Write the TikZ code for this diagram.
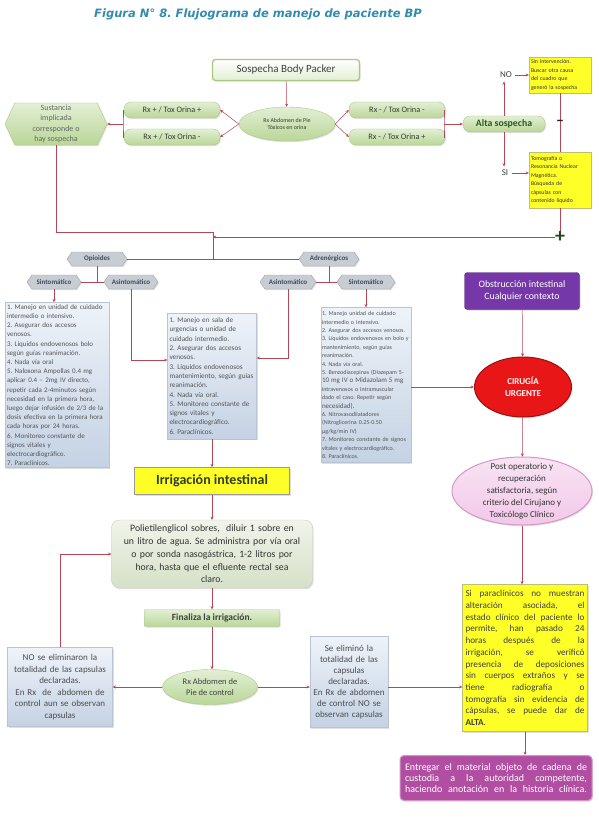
\documentclass[tikz,border=0pt]{standalone}
\usepackage{fontspec}
\setmainfont{Carlito}
\newfontfamily\titlefont{DejaVu Sans}
\usetikzlibrary{shapes.geometric,shapes.symbols,arrows.meta,shadows}
\definecolor{lineR}{RGB}{180,70,85}
\definecolor{gTop}{RGB}{226,239,212}
\definecolor{gBot}{RGB}{186,214,152}
\definecolor{gBrd}{RGB}{168,202,128}
\definecolor{gTxt}{RGB}{55,60,50}
\definecolor{altaTxt}{RGB}{40,90,30}
\definecolor{chFill}{RGB}{200,205,212}
\definecolor{chTxt}{RGB}{60,75,95}
\definecolor{bTop}{RGB}{238,243,249}
\definecolor{bBot}{RGB}{196,210,228}
\definecolor{bBrd}{RGB}{185,195,210}
\definecolor{bTxt}{RGB}{85,85,85}
\definecolor{yel}{RGB}{255,255,40}
\definecolor{yBrd}{RGB}{190,190,120}
\definecolor{purp}{RGB}{118,56,168}
\definecolor{cRed}{RGB}{232,22,22}
\definecolor{cRedB}{RGB}{150,20,20}
\definecolor{pinkF}{RGB}{242,200,232}
\definecolor{pinkB}{RGB}{215,150,200}
\definecolor{mag}{RGB}{178,78,162}
\definecolor{titC}{RGB}{50,140,175}
\definecolor{plusC}{RGB}{40,70,30}
\definecolor{irrTxt}{RGB}{50,60,35}
\definecolor{pTop}{RGB}{240,244,234}
\definecolor{pBot}{RGB}{214,224,200}
\definecolor{pBrd}{RGB}{200,210,190}
\newcommand{\jl}[1]{{\spaceskip=0.23em plus 3em\xspaceskip=0.23em plus 3em\makebox[\hsize][s]{#1}}}
\newcommand{\fs}[2]{\fontsize{#1}{#2}\selectfont}
\frenchspacing
\begin{document}
\begin{tikzpicture}[x=1pt,y=-1pt,
  conn/.style={draw=lineR, line width=0.5pt},
  arr/.style={conn, -{Stealth[length=3.2pt,width=3pt]}},
  shd/.style={drop shadow={opacity=0.25,shadow xshift=1pt,shadow yshift=-1.2pt}},
  gbox/.style={shd, draw=gBrd, top color=gTop, bottom color=gBot, text=gTxt, inner sep=1pt, align=center},
  gpill/.style={gbox, rounded corners=7pt, minimum width=96pt, minimum height=16pt, font=\fs{8.3}{10}},
  gell/.style={gbox, ellipse},
  chev/.style={shd, signal, signal to=east and west, signal pointer angle=110, fill=chFill, draw=chFill!80!black, text=chTxt, font=\bfseries\fs{7}{8}, minimum height=14pt, inner sep=1pt},
  bbox/.style={shd, draw=bBrd, top color=bTop, bottom color=bBot, text=bTxt, inner sep=2pt, align=left},
  ybox/.style={shd, fill=yel, draw=yBrd, text=black!80, inner sep=2pt, align=left}]
\useasboundingbox (0,0) rectangle (599,840);
\fill[white] (0,0) rectangle (599,840);

\node[font=\titlefont\bfseries\itshape\fs{11.5}{13}, text=titC] (title) at (258,14) {Figura N° 8. Flujograma de manejo de paciente BP};

\node[shd, draw=gBrd, line width=1.3pt, rounded corners=3pt, top color=white, bottom color=gTop, minimum width=147pt, minimum height=21pt, font=\fs{11}{13}, text=black!75] (sosp) at (286,70) {Sospecha Body Packer};
\node[gell, minimum width=96pt, minimum height=34pt, font=\fs{6}{7.5}] (rxab) at (287,124) {Rx Abdomen de Pie\\Tóxicos en orina};
\node[gpill] (rxpp) at (172,110) {Rx + / Tox Orina +};
\node[gpill] (rxpm) at (172,137) {Rx + / Tox Orina -};
\node[gpill] (rxmm) at (397,110) {Rx - / Tox Orina -};
\node[gpill] (rxmp) at (397,137) {Rx - / Tox Orina +};
\node[gpill, minimum width=82pt, font=\bfseries\fs{9.8}{11}, text=altaTxt] (alta) at (504,124) {Alta sospecha};
\node[gbox, signal, signal to=east and west, signal pointer angle=130, minimum width=102pt, minimum height=42pt, font=\fs{8}{10.3}, text=black!60] (sust) at (56,124) {Sustancia\\implicada\\corresponde o\\hay sospecha};

\node[font=\fs{9}{10}, text=black!75] (no) at (506,75) {NO};
\node[font=\fs{9}{10}, text=black!75] (si) at (505,173) {SI};
\node[ybox, minimum width=62pt, minimum height=36pt, text width=58pt, font=\fs{5.8}{8.4}] (y1) at (560,75) {Sin intervención.\\Buscar otra causa\\del cuadro que\\generó la sospecha};
\node[ybox, minimum width=62pt, minimum height=56pt, text width=58pt, font=\fs{5.8}{8.4}] (y2) at (560,180) {Tomografía o\\Resonancia Nuclear\\Magnética.\\Búsqueda de\\cápsulas con\\contenido líquido};
\node[font=\bfseries\fs{20}{20}, text=plusC, inner sep=0pt] (plus) at (560,237) {+};

\node[chev, minimum width=60pt] (opi) at (97,259) {Opioides};
\node[chev, minimum width=60pt] (adr) at (329,259) {Adrenérgicos};
\node[chev, minimum width=54pt] (sint1) at (54,282) {Sintomático};
\node[chev, minimum width=54pt] (asin1) at (131,282) {Asintomático};
\node[chev, minimum width=56pt] (asin2) at (288,282) {Asintomático};
\node[chev, minimum width=58pt] (sint2) at (366,282) {Sintomático};

\node[bbox, minimum width=104pt, minimum height=160pt, text width=100pt, font=\fs{7}{9.2}] (box1) at (57,385) {1. Manejo en unidad de cuidado\\intermedio o intensivo.\\2. Asegurar dos accesos\\venosos.\\3. Líquidos endovenosos bolo\\según guías reanimación.\\4. Nada vía oral\\5. Naloxona Ampollas 0.4 mg\\aplicar 0.4 – 2mg IV directo,\\repetir cada 2-4minutos según\\necesidad en la primera hora,\\luego dejar infusión de 2/3 de la\\dosis efectiva en la primera hora\\cada horas por 24 horas.\\6. Monitoreo constante de\\signos vitales y\\electrocardiográfico.\\7. Paraclínicos.};
\node[bbox, minimum width=89pt, minimum height=126pt, text width=85pt, font=\fs{7.2}{9.3}] (box2) at (212,376) {1. Manejo en sala de\\urgencias o unidad de\\cuidado intermedio.\\2. Asegurar dos accesos\\venosos.\\3. Líquidos endovenosos\\mantenimiento, según guías\\reanimación.\\4. Nada vía oral.\\5. Monitoreo constante de\\signos vitales y\\electrocardiográfico.\\6. Paraclínicos.};
\node[bbox, minimum width=90pt, minimum height=155pt, text width=88pt, inner sep=1pt, font=\fs{6}{8.4}] (box3) at (366,385) {1. Manejo unidad de cuidado\\intermedio o intensivo.\\2. Asegurar dos accesos venosos.\\3. Líquidos endovenosos en bolo y\\mantenimiento, según guías\\reanimación.\\4. Nada vía oral.\\5. Benzodiacepinas (Diazepam 5-\\{\fs{7}{9}10 mg IV o Midazolam 5 mg}\\intravenosos o intramuscular\\dado el caso. Repetir según\\{\fs{7}{9}necesidad).}\\6. Nitrovasodilatadores\\(Nitroglicerina 0.25-0.50\\µg/kg/min IV)\\7. Monitoreo constante de signos\\vitales y electrocardiográfico.\\8. Paraclínicos.};

\node[shd, fill=purp, draw=purp!70!black, rounded corners=3pt, minimum width=115pt, minimum height=37pt, text=white, font=\fs{9.8}{12.5}, align=center] (obs) at (522,291) {Obstrucción intestinal\\Cualquier contexto};
\node[shd, ellipse, fill=cRed, draw=cRedB, line width=1pt, minimum width=97pt, minimum height=60pt, text=white, font=\bfseries\fs{9}{12}, align=center] (cir) at (523,387) {CIRUGÍA\\URGENTE};
\node[shd, ellipse, top color=pinkF!50!white, bottom color=pinkF, draw=pinkB, line width=1pt, minimum width=140pt, minimum height=68pt] (post) at (522,491) {};
\node[text=black!80, font=\fs{9}{12}, align=center] (postT) at (post.center) {Post operatorio y\\recuperación\\satisfactoria, según\\criterio del Cirujano y\\Toxicólogo Clínico};

\node[shd, fill=yel, draw=black!40, line width=0.8pt, minimum width=155pt, minimum height=27pt, font=\bfseries\fs{14}{16}, text=irrTxt] (irr) at (212,481) {Irrigación intestinal};
\node[gbox, rounded corners=8pt, top color=pTop, bottom color=pBot, draw=pBrd, minimum width=201pt, minimum height=68pt, text width=197pt, font=\fs{9.8}{12.8}, text=black!80] (poly) at (212,554) {Polietilenglicol sobres,\ \ diluir 1 sobre en\\un litro de agua. Se administra por vía oral\\o por sonda nasogástrica, 1-2 litros por\\hora, hasta que el efluente rectal sea\\claro.};
\node[gbox, rounded corners=1pt, minimum width=135pt, minimum height=17pt, font=\bfseries\fs{9.5}{11}, text=black!75] (fin) at (212,618) {Finaliza la irrigación.};
\node[gell, minimum width=95pt, minimum height=35pt, font=\fs{8.5}{11}, text=black!75] (rxc) at (210,687) {Rx Abdomen de\\Pie de control};
\node[bbox, align=center, minimum width=105pt, minimum height=79pt, text width=101pt, font=\fs{9}{11.5}, text=black!70] (nobox) at (60,687) {NO se eliminaron la\\totalidad de las capsulas\\declaradas.\\En Rx\ \ de\ \ abdomen de\\control aun se observan\\capsulas};
\node[bbox, align=center, minimum width=78pt, minimum height=91pt, text width=74pt, font=\fs{9}{10.9}, text=black!70] (se) at (349,682) {Se eliminó la\\totalidad de las\\capsulas\\declaradas.\\En Rx de abdomen\\de control NO se\\observan capsulas};
\node[ybox, minimum width=125pt, minimum height=147pt, text width=119pt, font=\fs{9.2}{11.7}, text=black!75] (ybig) at (525,658) {\jl{Si paraclínicos no muestran}\\\jl{alteración asociada, el}\\\jl{estado clínico del paciente lo}\\\jl{permite, han pasado 24}\\\jl{horas después de la}\\\jl{irrigación, se verificó}\\\jl{presencia de deposiciones}\\\jl{sin cuerpos extraños y se}\\\jl{tiene radiografía o}\\\jl{tomografía sin evidencia de}\\\jl{cápsulas, se puede dar de}\\\textbf{ALTA}.};
\node[shd, fill=mag, draw=mag!60!white, line width=1pt, rounded corners=4pt, minimum width=192pt, minimum height=45pt, text width=182pt, text=white, font=\fs{10}{11}, align=left] (ent) at (496,778) {\jl{Entregar el material objeto de cadena de}\\\jl{custodia a la autoridad competente,}\\\jl{haciendo anotación en la historia clínica.}};

% connectors
\draw[arr] (sosp) -- (rxab);
\draw[arr] (rxab.west) -- (rxpp.east);
\draw[arr] (rxab.west) -- (rxpm.east);
\draw[arr] (rxab.east) -- (rxmm.west);
\draw[arr] (rxab.east) -- (rxmp.west);
\coordinate (bl) at (123,124);
\draw[conn] (rxpp.west) -| (bl) |- (rxpm.west);
\draw[arr] (bl) -- (sust.east);
\coordinate (br) at (444,124);
\draw[conn] (rxmm.east) -| (br) |- (rxmp.east);
\draw[arr] (br) -- (alta.west);
\draw[arr] (alta.north) -- (alta.north |- no.south);
\draw[arr] (alta.south) -- (alta.south |- si.north);
\draw[arr] (no.east) -- (no.east -| y1.west);
\draw[arr] (si.east) -- (si.east -| y2.west);
\draw[conn] (y1.south) -- (y2.north);
\draw[conn] (y2.south) -- (plus.north);
\coordinate (ja) at (213,232);
\coordinate (jn) at (213,237);
\coordinate (jb) at (213,259);
\draw[conn] (sust.south) |- (ja) -- (jb);
\draw[arr] (plus.west) -- (jn);
\draw[conn] (opi.east) -- (adr.west);
\draw[conn] (opi.south) -- (opi.south |- sint1.east);
\draw[conn] (sint1.east) -- (asin1.west);
\draw[conn] (adr.south) -- (adr.south |- asin2.east);
\draw[conn] (asin2.east) -- (sint2.west);
\draw[arr] (sint1.south) -- (sint1.south |- box1.north);
\draw[arr] (asin1.south) |- ([yshift=16pt]box2.west);
\draw[arr] (asin2.south) |- ([yshift=18pt]box2.east);
\draw[arr] (sint2.south) -- (sint2.south |- box3.north);
\draw[arr] (box3.east |- cir.west) -- (cir.west);
\draw[arr] (obs) -- (cir);
\draw[arr] (cir) -- (post);
\draw[arr] (post.south) -- (post.south |- ybig.north);
\draw[arr] (box2.south) -- (box2.south |- irr.north);
\draw[arr] (irr) -- (poly);
\draw[arr] (poly) -- (fin);
\draw[arr] (fin.south) -- (fin.south |- rxc.north);
\draw[arr] (rxc.west) -- (rxc.west -| nobox.east);
\draw[arr] (nobox.north) |- (poly.west);
\draw[arr] (rxc.east) -- (rxc.east -| se.west);
\coordinate (sy) at (se.east |- rxc.east);
\draw[arr] (sy) -- (sy -| ybig.west);
\draw[arr] (ybig.south) -- (ybig.south |- ent.north);
\node[font=\bfseries\fs{16}{16}, text=black!85, inner sep=0pt] (minus) at (560,123) {–};
\end{tikzpicture}
\end{document}
